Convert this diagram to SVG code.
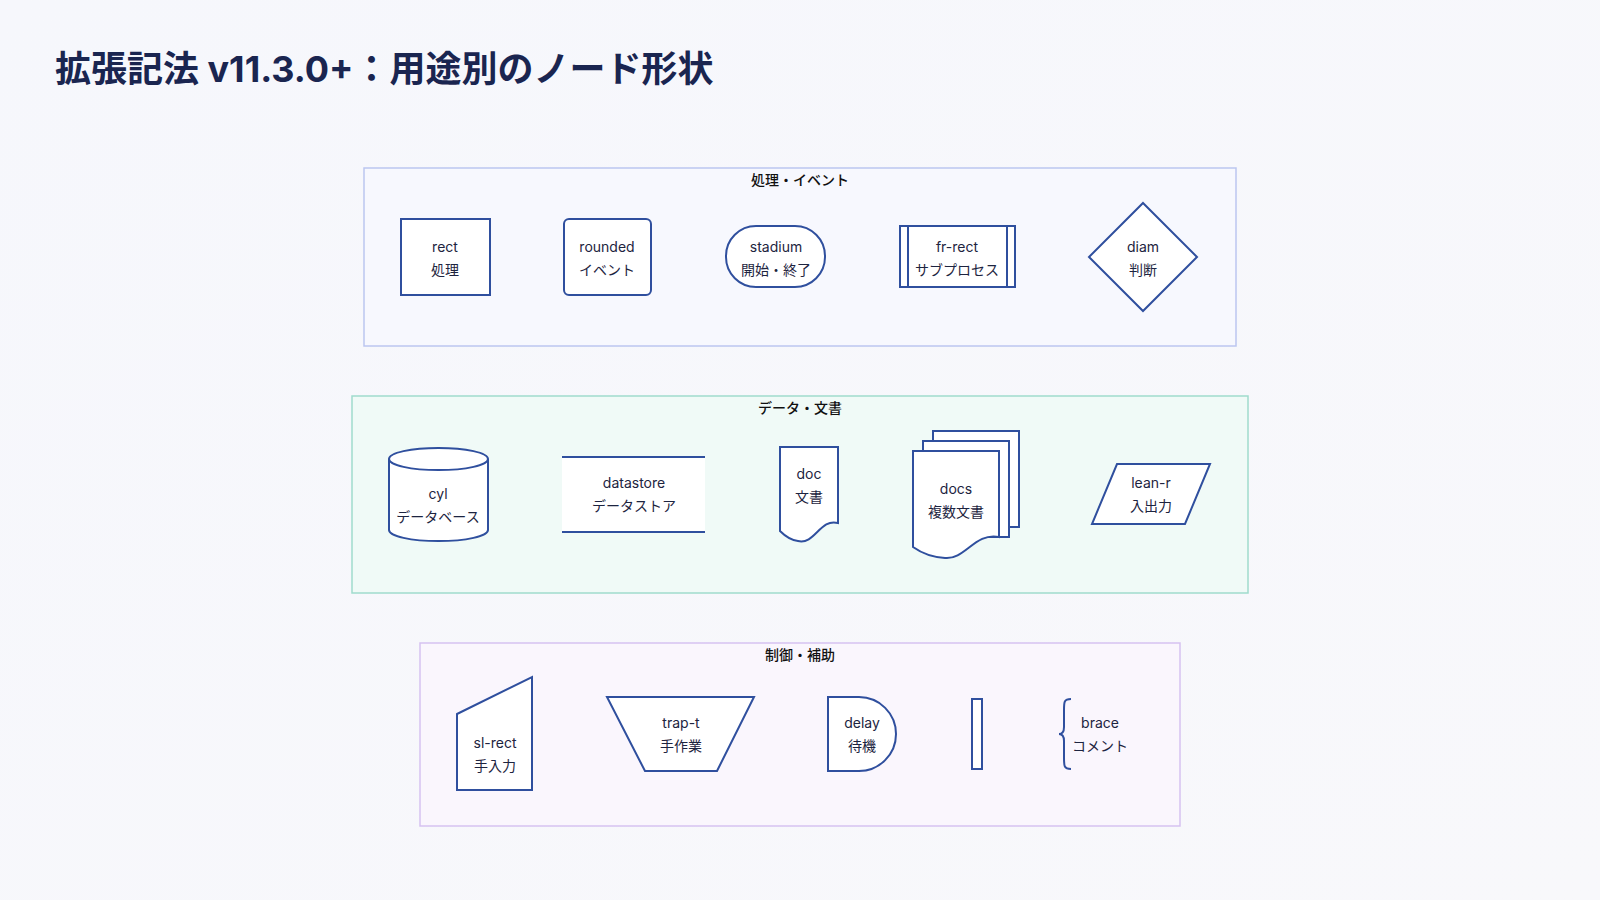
<svg xmlns="http://www.w3.org/2000/svg" width="1600" height="900" viewBox="0 0 1600 900">
<defs>
<linearGradient id="bg" x1="0" y1="0" x2="1" y2="1"><stop offset="0" stop-color="#f6f7fc"/><stop offset="1" stop-color="#f8f8fb"/></linearGradient>
<style>
.n{fill:#fff;stroke:#2f4f9e;stroke-width:2}
.l{fill:none;stroke:#2f4f9e;stroke-width:2}
.t{font-family:"Inter","Noto Sans CJK JP",sans-serif;font-size:14px;fill:#1d2440;text-anchor:middle}
.s{font-family:"Inter","Noto Sans CJK JP",sans-serif;font-size:14px;font-weight:500;fill:#111;text-anchor:middle}
</style>
</defs>
<rect width="1600" height="900" fill="url(#bg)"/>
<text x="55" y="82" font-family="Inter,'Noto Sans CJK JP',sans-serif" font-size="36" font-weight="700" fill="#1a2550">拡張記法 v11.3.0+：用途別のノード形状</text>
<g id="frames">
<rect x="364" y="168" width="872" height="178" fill="#f7f8fe" stroke="#bcc6f0" stroke-width="1.5"/>
<text class="s" x="800" y="185">処理・イベント</text>
<rect x="352" y="396" width="896" height="197" fill="#f0faf7" stroke="#a0dbcd" stroke-width="1.5"/>
<text class="s" x="800" y="413">データ・文書</text>
<rect x="420" y="643" width="760" height="183" fill="#faf6fd" stroke="#d6c2f1" stroke-width="1.5"/>
<text class="s" x="800" y="660">制御・補助</text>
</g>
<g id="connectors"></g>
<g id="rect"><rect class="n" x="401" y="219" width="89" height="76"/><text class="t" x="445" y="252">rect</text><text class="t" x="445" y="275">処理</text></g>
<g id="rounded"><rect class="n" x="564" y="219" width="87" height="76" rx="5"/><text class="t" x="607" y="252">rounded</text><text class="t" x="607" y="275">イベント</text></g>
<g id="stadium"><rect class="n" x="726" y="226" width="99" height="61" rx="30"/><text class="t" x="776" y="252">stadium</text><text class="t" x="776" y="275">開始・終了</text></g>
<g id="frrect"><rect class="n" x="900" y="226" width="115" height="61"/><line class="l" x1="908" y1="226" x2="908" y2="287"/><line class="l" x1="1007" y1="226" x2="1007" y2="287"/><text class="t" x="957" y="252">fr-rect</text><text class="t" x="957" y="275">サブプロセス</text></g>
<g id="diam"><polygon class="n" points="1143,203 1197,257 1143,311 1089,257"/><text class="t" x="1143" y="252">diam</text><text class="t" x="1143" y="275">判断</text></g>

<g id="cyl"><path class="n" d="M389,459 L389,530 A49,11 0 0 0 488,530 L488,459 A49,11 0 0 0 389,459 Z"/><path class="l" d="M389,459 A49,11 0 0 0 488,459"/><text class="t" x="438" y="499">cyl</text><text class="t" x="438" y="522">データベース</text></g>
<g id="datastore"><rect x="562" y="457" width="143" height="75" fill="#fff"/><line class="l" x1="562" y1="457" x2="705" y2="457"/><line class="l" x1="562" y1="532" x2="705" y2="532"/><text class="t" x="634" y="488">datastore</text><text class="t" x="634" y="511">データストア</text></g>
<g id="doc"><path class="n" d="M780,447 L838,447 L838,523 C820,518 815,545 798,541 C790,540 784,535 780,531 Z"/><text class="t" x="809" y="479">doc</text><text class="t" x="809" y="502">文書</text></g>
<g id="docs"><rect class="n" x="933" y="431" width="86" height="96"/><rect class="n" x="923" y="441" width="86" height="96"/><path class="n" d="M913,451 L999,451 L999,537 C975,532 965,560 945,558 C930,557 920,552 913,547 Z"/><text class="t" x="956" y="494">docs</text><text class="t" x="956" y="517">複数文書</text></g>
<g id="leanr"><polygon class="n" points="1117,464 1210,464 1185,524 1092,524"/><text class="t" x="1151" y="488">lean-r</text><text class="t" x="1151" y="511">入出力</text></g>

<g id="slrect"><polygon class="n" points="457,714 532,677 532,790 457,790"/><text class="t" x="495" y="748">sl-rect</text><text class="t" x="495" y="771">手入力</text></g>
<g id="trapt"><polygon class="n" points="607,697 754,697 717,771 645,771"/><text class="t" x="681" y="728">trap-t</text><text class="t" x="681" y="751">手作業</text></g>
<g id="delay"><path class="n" d="M828,697 L859,697 A37,37 0 0 1 859,771 L828,771 Z"/><text class="t" x="862" y="728">delay</text><text class="t" x="862" y="751">待機</text></g>
<g id="bar"><rect class="n" x="972" y="699" width="10" height="70"/></g>
<g id="brace"><path class="l" stroke-width="1.5" d="M1071,699 C1064,699 1064,702 1064,710 L1064,727 C1064,732 1062,734 1059,734 C1062,734 1064,736 1064,741 L1064,758 C1064,766 1064,769 1071,769"/><text class="t" x="1100" y="728">brace</text><text class="t" x="1100" y="751">コメント</text></g>
</svg>
